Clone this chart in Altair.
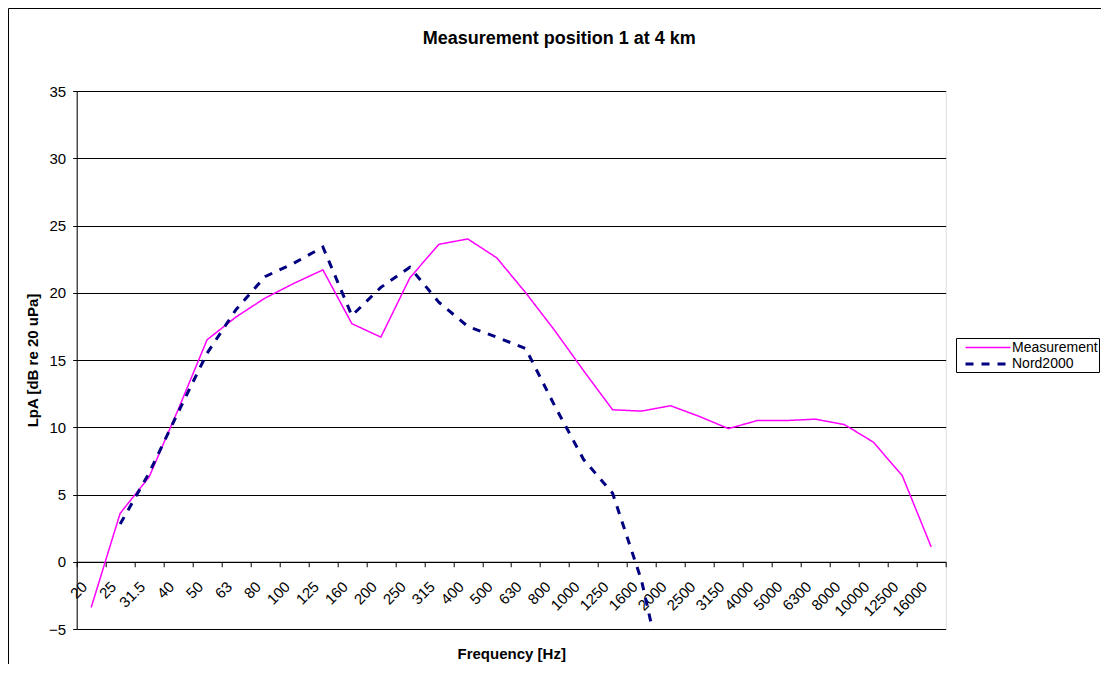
import altair as alt
import pandas as pd

# ---- data ----
freqs = ["20", "25", "31.5", "40", "50", "63", "80", "100", "125", "160",
         "200", "250", "315", "400", "500", "630", "800", "1000", "1250", "1600",
         "2000", "2500", "3150", "4000", "5000", "6300", "8000", "10000", "12500", "16000"]

measurement = [-3.4, 3.6, 6.3, 11.3, 16.5, 18.2, 19.6, 20.7, 21.7, 17.7,
               16.7, 21.1, 23.6, 24.0, 22.6, 20.0, 17.2, 14.2, 11.3, 11.2,
               11.6, 10.8, 9.9, 10.5, 10.5, 10.6, 10.2, 8.9, 6.4, 1.1]

nord2000 = [None, 2.8, 6.6, 11.1, 15.5, 18.75, 21.2, 22.2, 23.4, 18.3,
            20.4, 21.9, 19.3, 17.5, 16.7, 15.85, 11.6, 7.6, 5.1, -1.4,
            -11.0, None, None, None, None, None, None, None, None, None]

series_names = ["Measurement", "Nord2000"]
series_colors = ["#FF00FF", "#000080"]
y_ticks = [-5, 0, 5, 10, 15, 20, 25, 30, 35]

rows = []
for name, vals in zip(series_names, [measurement, nord2000]):
    for f, v in zip(freqs, vals):
        if v is not None:
            rows.append({"freq": f, "series": name, "value": v})
df = pd.DataFrame(rows)

W, H = 869, 538
PAD_L, PAD_T = 68.7, 83
TOTAL_W, TOTAL_H = 1093, 656
FONT = "Liberation Sans"

legend = alt.Legend(
    title=None, orient="none", legendX=879.3, legendY=247,
    strokeColor="#000000", fillColor="#ffffff", padding=1, rowPadding=0,
    labelFontSize=14, labelFont=FONT, labelColor="#000000",
    symbolType="M-3,0H3", symbolSize=225, symbolOffset=22, labelOffset=15,
    cornerRadius=0,
)

lines = alt.Chart(df).mark_line(clip=True, strokeCap="butt").encode(
    x=alt.X("freq:N", sort=freqs,
            scale=alt.Scale(type="band", paddingInner=0, paddingOuter=0),
            axis=alt.Axis(title="Frequency [Hz]", offset=-H / 8,
                          labelAngle=315, labelAlign="right", labelBaseline="middle",
                          labelPadding=17, labelOffset=-7, labelOverlap=False,
                          labelFontSize=15, labelFont=FONT, labelColor="#000000",
                          tickBand="extent", tickSize=5, tickColor="#000000",
                          domainColor="#000000", grid=False,
                          titleFontSize=15, titleFont=FONT, titleFontWeight="bold",
                          titleColor="#000000", titleY=92, titleBaseline="middle")),
    y=alt.Y("value:Q",
            scale=alt.Scale(domain=[-5, 35], nice=False, zero=False),
            axis=alt.Axis(values=y_ticks, title="LpA [dB re 20 uPa]",
                          grid=True, gridColor="#000000", gridWidth=1,
                          tickSize=4, tickColor="#000000", domainColor="#000000",
                          labelFontSize=15, labelFont=FONT, labelColor="#000000",
                          labelPadding=7,
                          titleFontSize=15, titleFont=FONT, titleFontWeight="bold",
                          titleColor="#000000", titleAngle=270, titleX=-43.7,
                          titleY=H / 2, titleAlign="center", titleBaseline="middle")),
    color=alt.Color("series:N",
                    scale=alt.Scale(domain=series_names, range=series_colors),
                    legend=legend),
    strokeDash=alt.StrokeDash("series:N",
                              scale=alt.Scale(domain=series_names, range=[[1, 0], [8, 8]]),
                              legend=legend),
    strokeWidth=alt.StrokeWidth("series:N",
                                scale=alt.Scale(domain=series_names, range=[1.5, 3]),
                                legend=legend),
)

frame = alt.Chart(pd.DataFrame({"k": [0]})).mark_rect(
    fill=None, stroke="#000000", strokeWidth=1, clip=False
).encode(
    x=alt.value(-PAD_L + 0.5), x2=alt.value(2000),
    y=alt.value(-PAD_T + 0.5), y2=alt.value(2000),
)

chart = alt.layer(frame, lines).properties(
    width=W, height=H,
    padding={"left": PAD_L, "top": PAD_T, "right": TOTAL_W - PAD_L - W,
             "bottom": TOTAL_H - PAD_T - H},
    autosize=alt.AutoSizeParams(type="none"),
    title=alt.TitleParams("Measurement position 1 at 4 km", fontSize=18,
                          fontWeight="bold", font=FONT, color="#000000",
                          anchor="middle", dx=48, baseline="alphabetic",
                          offset=-54),
).configure_view(stroke=None).configure(background="#ffffff")

chart.save("out.html", embed_options={"renderer": "svg", "actions": False})
